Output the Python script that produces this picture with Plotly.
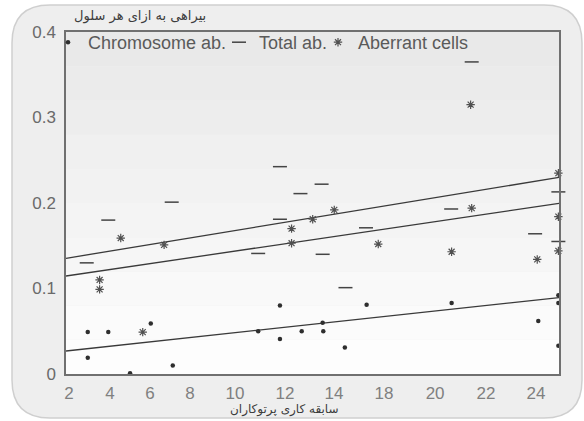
import plotly.graph_objects as go

# ---------------- data ----------------
chrom_x = [2.84, 2.84, 3.81, 4.84, 5.82, 6.86, 10.9, 11.93, 11.93, 12.96, 13.95, 13.98,
           15.0, 16.03, 20.05, 24.15, 25.1, 25.1, 25.1]
chrom_y = [0.049, 0.019, 0.049, 0.001, 0.059, 0.010, 0.050, 0.080, 0.041, 0.050, 0.060, 0.050,
           0.031, 0.081, 0.083, 0.062, 0.092, 0.083, 0.033]

total_x = [2.79, 3.81, 6.81, 10.9, 11.93, 11.93, 12.9, 13.9, 13.95, 15.03, 16.0, 20.03,
           21.0, 24.0, 25.1, 25.1]
total_y = [0.130, 0.180, 0.201, 0.141, 0.2425, 0.181, 0.211, 0.222, 0.140, 0.101, 0.171, 0.193,
           0.365, 0.164, 0.213, 0.155]

aber_x = [3.4, 3.4, 4.40, 5.44, 6.45, 12.48, 12.48, 13.48, 14.5, 16.58, 20.05, 21.0,
          20.95, 24.1, 25.1, 25.1, 25.1]
aber_y = [0.110, 0.099, 0.159, 0.049, 0.151, 0.170, 0.153, 0.181, 0.192, 0.152, 0.143, 0.194,
          0.315, 0.134, 0.235, 0.184, 0.144]

fit_x = [1.81, 25.13]
fit_total = [0.1353, 0.230]
fit_aber = [0.1146, 0.1996]
fit_chrom = [0.0269, 0.0893]

x_tick_positions = [1.95, 3.89, 5.78, 7.68, 9.80, 12.17, 14.49, 16.85, 19.27, 21.68, 24.04]
x_tick_labels = ["2", "4", "6", "8", "10", "12", "14", "18", "20", "22", "24"]
y_tick_values = [0, 0.1, 0.2, 0.3, 0.4]
y_tick_labels = ["0", "0.1", "0.2", "0.3", "0.4"]

series_names = ["Chromosome ab.", "Total ab.", "Aberrant cells"]
title_text = "بیراهی به ازای هر سلول"
x_title_text = "سابقه کاری پرتوکاران"

# ---------------- layout geometry ----------------
W_FIG, H_FIG = 584, 421
L, R, T, B = 66, 559, 32, 374
PW, PH = R - L, B - T


def px_x(p):
    return (p - L) / PW


def px_y(p):
    return (B - p) / PH


fig = go.Figure()

line_col = "#3a3a3a"
for fy in (fit_total, fit_aber, fit_chrom):
    fig.add_trace(go.Scatter(x=fit_x, y=fy, mode="lines", showlegend=False,
                             line=dict(color=line_col, width=1.3), hoverinfo="skip"))

fig.add_trace(go.Scatter(x=chrom_x, y=chrom_y, mode="markers", name=series_names[0],
                         cliponaxis=False, legend="legend",
                         marker=dict(symbol="circle", size=4.5, color="#2e2e2e")))
fig.add_trace(go.Scatter(x=total_x, y=total_y, mode="markers", name=series_names[1],
                         cliponaxis=False, legend="legend2",
                         marker=dict(symbol="line-ew", size=10, color="#444444",
                                     line=dict(color="#444444", width=1.5))))
fig.add_trace(go.Scatter(x=aber_x, y=aber_y, mode="markers", name=series_names[2],
                         cliponaxis=False, legend="legend3",
                         marker=dict(symbol="asterisk-open", size=7, color="#505050",
                                     line=dict(color="#505050", width=1.2))))

# ---------------- background shapes ----------------
x0, y0, x1, y1, r = 12, 5, 582, 418, 38
pts = [
    ("M", [(x0 + r, y0)]), ("L", [(x1 - r, y0)]), ("Q", [(x1, y0), (x1, y0 + r)]),
    ("L", [(x1, y1 - r)]), ("Q", [(x1, y1), (x1 - r, y1)]),
    ("L", [(x0 + r, y1)]), ("Q", [(x0, y1), (x0, y1 - r)]),
    ("L", [(x0, y0 + r)]), ("Q", [(x0, y0), (x0 + r, y0)]),
]
path = ""
for cmd, ps in pts:
    path += cmd + " " + " ".join(f"{px_x(a):.5f},{px_y(b):.5f}" for a, b in ps) + " "
path += "Z"
shapes = [dict(type="path", path=path, xref="paper", yref="paper", layer="below",
               fillcolor="#eeeeee", line=dict(color="#cfcfcf", width=1.5))]

n_bands = 10
top_c, bot_c = (233, 233, 233), (253, 253, 253)
for i in range(n_bands):
    t = i / (n_bands - 1)
    c = tuple(int(round(bot_c[k] + (top_c[k] - bot_c[k]) * t)) for k in range(3))
    shapes.append(dict(type="rect", xref="paper", yref="paper", layer="below",
                       x0=0, x1=1, y0=i / n_bands, y1=(i + 1) / n_bands,
                       fillcolor=f"rgb{c}", line=dict(width=0)))

annotations = [
    dict(text=title_text, xref="paper", yref="paper", x=px_x(72), y=px_y(16),
         xanchor="left", yanchor="middle", showarrow=False,
         font=dict(family="DejaVu Sans", size=13, color="#3c3c3c")),
    dict(text=x_title_text, xref="paper", yref="paper", x=px_x(284), y=px_y(410),
         xanchor="center", yanchor="middle", showarrow=False,
         font=dict(family="DejaVu Sans", size=12, color="#3c3c3c")),
]

legend_common = dict(orientation="h", xanchor="left", yanchor="top",
                     bgcolor="rgba(0,0,0,0)", borderwidth=0,
                     font=dict(size=18, color="#5a5a5a"), itemwidth=30)

fig.update_layout(
    width=W_FIG, height=H_FIG,
    margin=dict(l=L, r=W_FIG - R, t=T, b=H_FIG - B, pad=0),
    paper_bgcolor="white", plot_bgcolor="rgba(0,0,0,0)",
    font=dict(family="Liberation Sans, Arial, sans-serif", color="#666666"),
    shapes=shapes, annotations=annotations,
    showlegend=True,
    legend=dict(legend_common, x=px_x(48), y=px_y(24)),
    legend2=dict(legend_common, x=px_x(219), y=px_y(24)),
    legend3=dict(legend_common, x=px_x(318), y=px_y(24)),
    xaxis=dict(range=[1.81, 25.13], tickmode="array", tickvals=x_tick_positions,
               ticktext=x_tick_labels, showgrid=False, zeroline=False, ticks="",
               showline=True, mirror=True, linecolor="#707070", linewidth=1.5,
               tickfont=dict(size=17, color="#808080"), ticklabelstandoff=3),
    yaxis=dict(range=[0, 0.4], tickmode="array", tickvals=y_tick_values,
               ticktext=y_tick_labels, showgrid=False, zeroline=False, ticks="",
               showline=True, mirror=True, linecolor="#707070", linewidth=1.5,
               tickfont=dict(size=17, color="#6a6a6a"), ticklabelstandoff=5),
)

fig.write_html("out.html", config={"displayModeBar": False},
               post_script="document.body.style.margin='0px';")
